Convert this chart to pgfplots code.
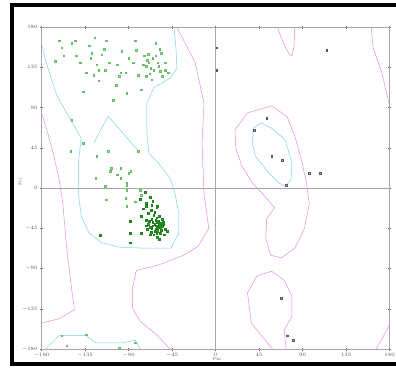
\documentclass[border=0pt]{standalone}
\usepackage{pgfplots}
\pgfplotsset{compat=1.18}
\definecolor{favc}{RGB}{120,210,228}
\definecolor{allc}{RGB}{228,140,228}
\definecolor{ptg}{RGB}{40,160,40}
\begin{document}
\begin{tikzpicture}[x=1pt,y=1pt]
\useasboundingbox (0,0) rectangle (396,367);
\draw[line width=4pt] (12,3) rectangle (399,361.5);
\begin{axis}[at={(43,20)}, anchor=south west,
  width=348pt, height=322pt, scale only axis,
  xmin=-180, xmax=180, ymin=-180, ymax=180,
  xtick={-180,-135,-90,-45,0,45,90,135,180},
  ytick={-180,-135,-90,-45,0,45,90,135,180},
  tick align=center, major tick length=3pt,
  tick style={gray!80!black, line width=0.4pt},
  axis line style={gray!70, line width=0.6pt},
  tick label style={font=\fontsize{3.5}{4}\selectfont, text=gray!60!black},
  xticklabel style={yshift=1pt},
  yticklabel style={xshift=1pt},
  clip=true]
% zero lines
\draw[gray!70, line width=0.6pt] (axis cs:0,-180) -- (axis cs:0,180);
\draw[gray!70, line width=0.6pt] (axis cs:-180,0) -- (axis cs:180,0);
% allowed contours (magenta)
\addplot[allc, line width=0.5pt, no markers] coordinates {
(-40,180) (-21,140) (-12,95) (-14,50) (-12,-6) (-7,-45) (-18,-65) (-33,-75) (-59,-86) (-82,-92) (-86,-112) (-86,-134) (-78,-149) (-61,-164) (-47,-180)};
\addplot[allc, line width=0.5pt, no markers] coordinates {
(-180,-151) (-162,-146) (-146,-136) (-149,-112) (-154,-67) (-158,-17) (-162,11) (-168,39) (-175,67) (-180,84)};
\addplot[allc, line width=0.5pt, no markers] coordinates {
(161,180) (163,157) (172,129) (180,92)};
\addplot[allc, line width=0.5pt, no markers] coordinates {
(180,-153) (174,-165) (166,-180)};
\addplot[allc, line width=0.5pt, no markers] coordinates {
(64,180) (68,168) (71,160) (76,150) (79,148) (81,157) (82,180)};
\addplot[allc, line width=0.5pt, no markers] coordinates {
(59,-180) (37,-151) (33,-117) (43,-98) (58,-93) (71,-103) (79,-121) (79,-143) (71,-159) (73,-180)};
\addplot[allc, line width=0.5pt, no markers] coordinates {
(20,65) (33,84) (58,92) (74,80) (82,58) (89,31) (94,6) (97,-17) (92,-45) (82,-67) (68,-78) (57,-75) (52,-56) (53,-34) (61,-22) (50,-8) (38,6) (27,25) (21,45) (20,65)};
% favoured contours (cyan)
\addplot[favc, line width=0.5pt, no markers] coordinates {
(39,67) (38,50) (41,36) (55,17) (65,6) (72,2) (78,9) (79,28) (72,54) (58,67) (47,73) (39,67)};
\addplot[favc, line width=0.5pt, no markers] coordinates {
(-180,162) (-176,143) (-164,103) (-152,80) (-139,56) (-142,28) (-142,-6) (-139,-31) (-131,-50) (-118,-61) (-100,-66) (-77,-67) (-46,-67) (-38,-50) (-38,-28) (-42,-6) (-47,11) (-59,28) (-69,39) (-71,61) (-71,95) (-64,112) (-47,123) (-40,134) (-41,157) (-43,180)};
\addplot[favc, line width=0.5pt, no markers] coordinates {
(-126,50) (-118,67) (-111,80) (-100,67) (-90,54) (-80,42)};
\addplot[favc, line width=0.5pt, no markers] coordinates {
(-176,-180) (-162,-165) (-134,-165) (-124,-173) (-97,-173) (-83,-170) (-78,-180)};
% residues, general (beta and scattered)
\addplot[only marks, mark=square*, mark size=0.8pt, color=ptg!70!white, fill=ptg!45!white] coordinates {
(-162,165) (-149,162) (-159,157) (-157,148) (-166,142) (-144,148) (-131,159) (-128,151) (-129,145) (-123,138) (-118,149) (-113,165) (-114,132) (-121,132) (-134,129) (-126,126) (-121,120) (-137,108) (-102,138) (-97,153) (-98,129) (-93,129) (-103,115) (-106,98) (-92,106) (-83,165) (-82,154) (-80,126) (-72,125) (-66,121) (-62,162) (-74,148) (-71,143) (-69,140) (-72,136) (-67,134) (-64,132) (-59,136) (-56,151) (-57,131) (-52,132) (-49,129) (-62,148) (-77,110)
(-60,140) (-65,145) (-75,138) (-55,125) (-70,150) (-58,155) (-68,128) (-52,140) (-140,140) (-110,140) (-90,145) (-115,155) (-100,125) (-85,140) (-145,165) (-125,168)
(-149,76) (-137,50) (-150,41) (-123,36) (-111,41) (-80,41) (-108,22) (-109,19) (-98,22) (-102,15) (-90,17) (-88,19) (-124,11) (-98,11) (-92,6) (-114,2) (-92,3) (-92,-2) (-78,-2) (-77,-8) (-113,-13) (-93,-11) (-92,-20) (-83,-15)
(-159,-165) (-134,-164) (-154,-176) (-100,-179) (-83,-173)};
% residues, alpha helix cluster
\addplot[only marks, mark=square*, mark size=0.9pt, color=ptg!80!black, fill=ptg] coordinates {
(-72,-17) (-66,-19) (-67,-25) (-61,-22) (-77,-31) (-72,-36) (-88,-37) (-119,-53) (-88,-50) (-88,-61) (-77,-50)
(-62,-42) (-58,-40) (-65,-38) (-60,-45) (-55,-43) (-68,-44) (-63,-48) (-57,-50) (-52,-46) (-66,-35) (-61,-33) (-70,-40) (-59,-37) (-54,-38) (-64,-52) (-60,-55) (-56,-47) (-67,-49) (-62,-36) (-58,-31) (-53,-52) (-71,-46) (-65,-42) (-57,-44) (-63,-40) (-60,-48) (-55,-35) (-69,-37) (-61,-51) (-58,-57) (-50,-48) (-66,-45) (-64,-30) (-59,-42) (-62,-46) (-54,-41) (-68,-52) (-56,-39) (-72,-42) (-60,-38)
(-67,-25) (-70,-28) (-63,-27) (-72,-20) (-65,-15) (-75,-23) (-68,-10) (-73,-5) (-78,-12) (-60,-20)};
% residues, glycine etc.
\addplot[only marks, mark=square*, mark size=0.8pt, color=gray!70!black, fill=gray!50] coordinates {
(1,157) (1,132) (115,154) (53,78) (40,65) (58,36) (69,31) (97,17) (108,17) (73,3) (68,-123) (74,-165) (80,-170)};
\end{axis}
\node[rotate=90, font=\fontsize{4}{5}\selectfont, text=gray!60!black] at (20,185) {Psi};
\node[font=\fontsize{4}{5}\selectfont, text=gray!60!black] at (217,8) {Phi};
\end{tikzpicture}
\end{document}
